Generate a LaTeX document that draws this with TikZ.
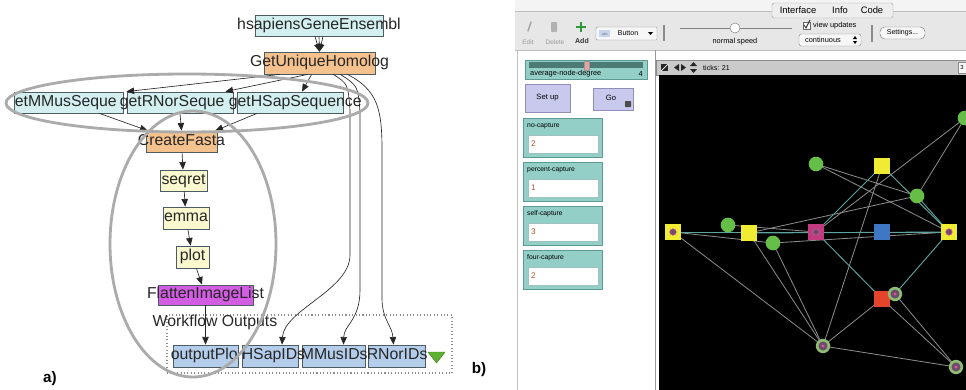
\documentclass[tikz,border=0pt]{standalone}
\usepackage{fontspec}
\setmainfont{Liberation Sans}
\usepackage{tikz}
\usetikzlibrary{arrows.meta,positioning,calc,fit}
\definecolor{wfcyan}{HTML}{D3EFEF}
\definecolor{wforange}{HTML}{F5C28E}
\definecolor{wfyellow}{HTML}{FAF8CE}
\definecolor{wfmagenta}{HTML}{D25DE3}
\definecolor{wfblue}{HTML}{B4CDEB}
\definecolor{wfline}{HTML}{4D5C62}
\definecolor{wfgreen}{HTML}{5DB22F}
\definecolor{notegray}{HTML}{ABABAB}
\definecolor{nltop}{HTML}{F4F4F4}
\definecolor{nlbar}{HTML}{E7E7E7}
\definecolor{nlrule}{HTML}{BDBDBD}
\definecolor{nltab}{HTML}{EEEEEE}
\definecolor{nlfield}{HTML}{F7F7F7}
\definecolor{nlhead}{HTML}{CACACA}
\definecolor{nlbtn}{HTML}{C9C9EE}
\definecolor{nlbtnline}{HTML}{8E8EB8}
\definecolor{nlteal}{HTML}{93CEC7}
\definecolor{nltealdk}{HTML}{5E9A94}
\definecolor{nltrack}{HTML}{4C7A74}
\definecolor{nlknob}{HTML}{E9A0A0}
\definecolor{nlvalue}{HTML}{B4532F}
\definecolor{nlicon}{HTML}{C5D5F0}
\definecolor{addgreen}{HTML}{2E9A3C}
\definecolor{nlgreen}{HTML}{66BD47}
\definecolor{nlyellow}{HTML}{EFEC33}
\definecolor{nlmagenta}{HTML}{C13B80}
\definecolor{nlblue}{HTML}{3E77C4}
\definecolor{nlred}{HTML}{E4442C}
\definecolor{nlring}{HTML}{8DBE72}
\definecolor{nlcore}{HTML}{6E4D6B}
\definecolor{nldot}{HTML}{D9559C}
\definecolor{nledge}{HTML}{8C8C8C}
\definecolor{nlteale}{HTML}{5FA3A0}
\tikzset{
  wfbox/.style={draw=wfline, fill=#1, line width=0.7pt, inner sep=0pt},
  wftext/.style={font=\fontsize{13.5}{15}\selectfont, inner sep=0pt, text=black!85, text height=9.6pt, text depth=2.8pt},
  wfflow/.style={-{Triangle[length=6.5pt,width=5.5pt]}, line width=0.55pt, draw=black!85},
  outgroup/.style={draw=black!45, dotted, line width=0.9pt, inner sep=0pt},
  note/.style={draw=notegray, line width=2.4pt},
  panellabel/.style={font=\fontsize{13}{15}\selectfont\bfseries, inner sep=0pt},
  nltext/.style={font=\fontsize{#1}{#1}\selectfont, inner sep=0pt},
  nltext/.default=6.3,
  nlwidget/.style={fill=nlteal, draw=nltealdk, line width=0.7pt},
  nlbutton/.style={fill=nlbtn, draw=nlbtnline, line width=0.8pt},
  nlsep/.style={draw=black!45, line width=1.8pt},
  agent/.style={circle, fill=nlgreen, minimum size=12.5pt, inner sep=0pt},
  patch/.style={rectangle, fill=#1, minimum size=13.5pt, inner sep=0pt},
  markedsq/.style={patch=#1, path picture={\fill[nlcore, draw=nldot, line width=0.5pt] (path picture bounding box.center) circle (2.8pt);}},
  ringagent/.style={circle, fill=nlcore, draw=nlring, line width=2.2pt, minimum size=10pt, inner sep=0pt,
    path picture={\fill[nldot] (path picture bounding box.center) circle (1.3pt);}},
  linkgray/.style={draw=nledge, line width=0.7pt},
  linkteal/.style={draw=nlteale, line width=0.8pt},
}
\newcommand{\wfbox}[6]{\node[wfbox=#2, fit={(#3,#4) (#5,#6)}] (#1) {};}
\newcommand{\nlinput}[4]{%
  \draw[nlwidget] (523,#2) rectangle (602,#2+39);
  \draw[fill=white, draw=nltealdk!60] (528,#2+17) rectangle (598,#2+35);
  \node[nltext=5.8, anchor=west] (#1) at (527,#2+8) {#3};
  \node[nltext=7, anchor=west, text=nlvalue] (#1v) at (531,#2+26) {#4};}

\begin{document}
\begin{tikzpicture}[x=0.03cm, y=-0.03cm]
  \useasboundingbox (0,0) rectangle (966,390);
  \fill[white] (0,0) rectangle (966,390);
  % (a) workflow
  \wfbox{hs}{wfcyan}{255}{15}{383}{36}
  \wfbox{guh}{wforange}{264}{52}{375}{74}
  \wfbox{seq1}{wfcyan}{14}{92}{123}{113}
  \wfbox{seq2}{wfcyan}{127}{92}{233}{113}
  \wfbox{seq3}{wfcyan}{237}{92}{343}{113}
  \wfbox{cf}{wforange}{146}{131}{217}{152}
  \wfbox{seqret}{wfyellow}{160}{170}{207}{191}
  \wfbox{emma}{wfyellow}{163}{207}{209}{229}
  \wfbox{plot}{wfyellow}{176}{246}{209}{268}
  \wfbox{flat}{wfmagenta}{158}{285}{253}{305}
  \node[outgroup, fit={(167,315) (452,373)}] (outs) {};
  \wfbox{outplot}{wfblue}{173}{345}{238}{367}
  \wfbox{hsap}{wfblue}{242}{345}{298}{367}
  \wfbox{mmus}{wfblue}{302}{345}{365}{367}
  \wfbox{rnor}{wfblue}{368}{345}{425}{367}
  \node[wftext] (hst) at (hs) {hsapiensGeneEnsembl};
  \node[wftext] (guht) at (guh) {GetUniqueHomolog};
  \node[wftext, anchor=west] (seq1t) at ($(seq1.west)+(1,0)$) {etMMusSeque};
  \node[wftext, anchor=west] (seq2t) at ($(seq2.west)+(-7,0)$) {getRNorSeque};
  \node[wftext, anchor=west] (seq3t) at ($(seq3.west)+(-8,0)$) {getHSapSequence};
  \node[wftext] (cft) at (cf) {CreateFasta};
  \node[wftext] (seqrett) at (seqret) {seqret};
  \node[wftext] (emmat) at (emma) {emma};
  \node[wftext] (plott) at (plot) {plot};
  \node[wftext] (flatt) at (flat) {FlattenImageList};
  \node[wftext] (outst) at (215,323) {Workflow Outputs};
  \node[wftext, anchor=west] (outplott) at ($(outplot.west)+(-2,0)$) {outputPlo};
  \node[wftext, anchor=west] (hsapt) at ($(hsap.west)+(0,0)$) {HSapIDs};
  \node[wftext, anchor=west] (mmust) at ($(mmus.west)+(-1,0)$) {MMusIDs};
  \node[wftext, anchor=west] (rnort) at ($(rnor.west)+(-1,0)$) {RNorIDs};
  \fill[wfgreen, draw=wfgreen!70!black] (428,352) -- (445,352) -- (436.5,363) -- cycle;
  \foreach \dx in {-4,0,4}
    \draw[wfflow] ($(hs.south)+(\dx,0)$) -- (guh.north);
  \draw[wfflow] ($(guh.south west)+(16,0)$) -- ($(seq1.north east)+(3,0)$);
  \draw[wfflow] ($(guh.south west)+(44,0)$) -- ($(seq2.north east)+(-8,0)$);
  \draw[wfflow] ($(guh.south west)+(48,0)$) -- ($(seq3.north)+(12,0)$);
  \draw[wfflow] ($(seq1.south)+(31,0)$) -- ($(cf.north west)+(2,0)$);
  \draw[wfflow] (seq2.south) -- (cf.north);
  \draw[wfflow] ($(seq3.south)+(-33,0)$) -- ($(cf.north east)+(-2,0)$);
  \draw[wfflow] (cf) -- (seqret);
  \draw[wfflow] (seqret) -- (emma);
  \draw[wfflow] (emma) -- (plot);
  \draw[wfflow] (plot) -- (flat);
  \draw[wfflow] (flat) -- (outplot);
  \draw[wfflow] ($(guh.south east)+(-42,0)$) .. controls (348,84) .. (350,110) -- (350,255)
    .. controls (350,290) and (284,310) .. ($(hsap.north)+(12,0)$);
  \draw[wfflow] ($(guh.south east)+(-35,0)$) .. controls (358,86) .. (360,112) -- (360,290)
    .. controls (360,320) and (344,325) .. ($(mmus.north)+(10,0)$);
  \draw[wfflow] ($(guh.south east)+(-28,0)$) .. controls (378,90) and (382,110) .. (382,150) -- (382,298)
    .. controls (382,320) and (392,325) .. ($(rnor.north)+(-3,0)$);
  \draw[note] (187,103) ellipse [x radius=181, y radius=29];
  \draw[note] (193,244) ellipse [x radius=83, y radius=133];
  \node[panellabel] (lbla) at (50,379) {a)};
  \node[panellabel] (lblb) at (479,370) {b)};
  % (b) NetLogo interface
  \fill[nltop] (515,0) rectangle (966,11);
  \fill[nlbar] (515,11) rectangle (966,50);
  \draw[nlrule] (515,11) -- (966,11);
  \draw[nlrule] (515,50) -- (966,50);
  \draw[fill=nltab, draw=black!35, rounded corners=2pt] (772,3) rectangle (893,18);
  \node[nltext=8] (tabint) at (798,10.5) {Interface};
  \node[nltext=8] (tabinfo) at (840,10.5) {Info};
  \node[nltext=8] (tabcode) at (872,10.5) {Code};
  \draw[black!35, line width=1.3pt, line cap=round] (531,22) -- (528,31);
  \node[nltext=5.5, text=black!40] (edit) at (528,42) {Edit};
  \fill[black!30, rounded corners=0.8pt] (551,22) rectangle (557,32);
  \node[nltext=5.5, text=black!40] (delete) at (555,42) {Delete};
  \draw[addgreen, line width=2pt] (576,27) -- (586,27) (581,22) -- (581,32);
  \node[nltext=6, text=black!80] (add) at (582,41) {\bfseries Add};
  \draw[fill=nlfield, draw=black!45, rounded corners=1pt] (596,27) rectangle (657,40);
  \fill[nlicon] (599,30) rectangle (610,37);
  \node[nltext=3, text=black!60] (abc) at (605,34) {abc};
  \node[nltext=6] (btn) at (628,33.5) {Button};
  \fill (648,32) -- (653,32) -- (650.5,35) -- cycle;
  \draw[nlsep] (664,25) -- (664,41);
  \draw[black!50, line width=0.8pt] (680,28) -- (792,28);
  \draw[fill=white, draw=black!50] (735,28) circle (5);
  \node[nltext] (speed) at (735,42) {normal speed};
  \draw[black!60, fill=white] (803,22) rectangle (810,29);
  \draw[black!80, line width=0.8pt] (804,25) -- (806,28) -- (810,20);
  \node[nltext, anchor=west] (vu) at (813,25.5) {view updates};
  \draw[fill=nlfield, draw=black!45, rounded corners=2pt] (799,34) rectangle (861,46);
  \node[nltext] (cont) at (823,40) {continuous};
  \fill (853,39) -- (857,39) -- (855,36) -- cycle;
  \fill (853,41) -- (857,41) -- (855,44) -- cycle;
  \draw[nlsep] (872,25) -- (872,42);
  \draw[fill=nlfield, draw=black!50, rounded corners=4pt] (880,27) rectangle (925,39);
  \node[nltext=6] (settings) at (902.5,33) {Settings...};
  % widgets
  \fill[white] (517,50.5) rectangle (655,390);
  \draw[black!25] (517,50) -- (517,390);
  \draw[black!40] (655,50) -- (655,390);
  \draw[nlwidget] (525,60) rectangle (647,79);
  \fill[nltrack] (529,62) rectangle (643,68);
  \fill[nlknob, draw=black!40] (584,61) rectangle (589,70);
  \node[nltext, anchor=west] (deg) at (530,74) {average-node-degree};
  \node[nltext, anchor=east] (degv) at (643,74) {4};
  \draw[nlbutton] (525,84) rectangle (570,112);
  \node[nltext=6.5] (setup) at (547.5,98) {Set up};
  \draw[nlbutton] (593,88) rectangle (633,110);
  \node[nltext=6.5] (go) at (611,98) {Go};
  \fill[black!70, rounded corners=0.5pt] (625,101) rectangle (631,107);
  \nlinput{nocap}{118}{no-capture}{2}
  \nlinput{pctcap}{162}{percent-capture}{1}
  \nlinput{selfcap}{206}{self-capture}{3}
  \nlinput{fourcap}{250}{four-capture}{2}
  % view
  \draw[fill=nlhead, draw=black!45] (656,60) rectangle (970,75);
  \fill[black!85] (661,64) rectangle (668,71);
  \draw[white, line width=0.6pt] (661,71) -- (668,64);
  \fill[black!85] (674,67.5) -- (679,64) -- (679,71) -- cycle;
  \fill[black!85] (681,64) -- (686,67.5) -- (681,71) -- cycle;
  \fill[black!85] (690,66) -- (693.5,62) -- (697,66) -- cycle;
  \fill[black!85] (690,69) -- (697,69) -- (693.5,73) -- cycle;
  \node[nltext=6, anchor=west] (ticks) at (703,67.5) {ticks: 21};
  \draw[fill=nlfield, draw=black!45] (958,62) rectangle (970,73);
  \node[nltext=5] (threed) at (962,67.5) {3};
  \fill[black] (659,75) rectangle (966,390);
  \begin{scope}
    \clip (659,75) rectangle (966,390);
    \coordinate (n1) at (965,118);
    \coordinate (n2) at (816,164);
    \coordinate (n3) at (882,166);
    \coordinate (n4) at (917,196);
    \coordinate (n5) at (673,232);
    \coordinate (n6) at (728,225);
    \coordinate (n7) at (749,233);
    \coordinate (n8) at (773,243);
    \coordinate (n9) at (816,232);
    \coordinate (n10) at (882,232);
    \coordinate (n11) at (949,232);
    \coordinate (n12) at (882,299);
    \coordinate (n13) at (895,294);
    \coordinate (n14) at (823,346);
    \coordinate (n15) at (956,367);
    \foreach \a/\b in {n1/n9, n1/n4, n2/n4, n2/n11, n3/n14, n4/n7, n6/n9, n5/n8, n8/n11,
                       n5/n14, n7/n14, n8/n14, n12/n14, n14/n15, n13/n15, n12/n15}
      \draw[linkgray] (\a) -- (\b);
    \foreach \a/\b in {n5/n11, n7/n11, n3/n9, n3/n11, n4/n11, n9/n12, n11/n13}
      \draw[linkteal] (\a) -- (\b);
    \foreach \n in {n1, n2, n4, n6, n8}
      \node[agent] at (\n) {};
    \node[patch=nlyellow] (p3) at (n3) {};
    \node[patch=nlyellow] (p7) at (n7) {};
    \node[patch=nlblue] (p10) at (n10) {};
    \node[markedsq=nlyellow] (p5) at (n5) {};
    \node[markedsq=nlmagenta] (p9) at (n9) {};
    \node[markedsq=nlyellow] (p11) at (n11) {};
    \node[patch=nlred] (p12) at (n12) {};
    \foreach \n in {n13, n14, n15}
      \node[ringagent] at (\n) {};
  \end{scope}
\end{tikzpicture}
\end{document}
